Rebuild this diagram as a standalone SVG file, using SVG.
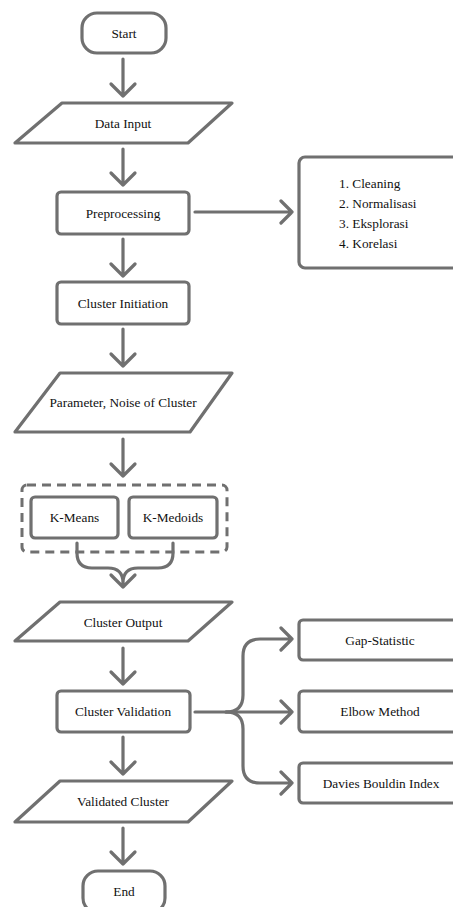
<svg xmlns="http://www.w3.org/2000/svg" width="453" height="907" viewBox="0 0 453 907">
<style>
.s{fill:#fff;stroke:#707070;stroke-width:3.2;stroke-linejoin:round}
.d{fill:none;stroke:#707070;stroke-width:3;stroke-dasharray:9 6}
.c{fill:none;stroke:#707070;stroke-width:3.2;stroke-linecap:round;stroke-linejoin:round}
text{font-family:'Liberation Serif','DejaVu Serif',serif;font-size:13.3px;fill:#111}
.m{text-anchor:middle}
</style>
<rect width="453" height="907" fill="#fff"/>
<g font-family="Liberation Serif, DejaVu Serif, serif">
<g id="start"><rect class="s" x="82" y="13" width="84" height="40" rx="15"/><text class="m" x="124" y="37.5">Start</text></g>
<g id="data-input"><polygon class="s" points="62,103 232,103 188,143 15,143"/><text class="m" x="123" y="127.5">Data Input</text></g>
<g id="preprocessing"><rect class="s" x="57" y="192" width="132" height="42" rx="4"/><text class="m" x="123" y="217.5">Preprocessing</text></g>
<g id="prep-steps"><rect class="s" x="299" y="157" width="170" height="111" rx="6"/>
<text x="339" y="188">1. Cleaning</text><text x="339" y="208">2. Normalisasi</text><text x="339" y="228">3. Eksplorasi</text><text x="339" y="248">4. Korelasi</text></g>
<g id="cluster-initiation"><rect class="s" x="57" y="282" width="132" height="42" rx="4"/><text class="m" x="123" y="307.5">Cluster Initiation</text></g>
<g id="parameter"><polygon class="s" points="60,373 232,373 190,432 15,432"/><text class="m" x="123" y="407">Parameter, Noise of Cluster</text></g>
<g id="methods"><rect class="d" x="22" y="485" width="205" height="67" rx="5"/></g>
<g id="k-means"><rect class="s" x="31" y="497" width="87" height="41" rx="4"/><text class="m" x="74.5" y="522">K-Means</text></g>
<g id="k-medoids"><rect class="s" x="129" y="497" width="88" height="41" rx="4"/><text class="m" x="173" y="522">K-Medoids</text></g>
<g id="cluster-output"><polygon class="s" points="60,602 232,602 188,641 15,641"/><text class="m" x="123" y="626.5">Cluster Output</text></g>
<g id="cluster-validation"><rect class="s" x="57" y="691" width="133" height="41" rx="4"/><text class="m" x="123" y="716">Cluster Validation</text></g>
<g id="gap-statistic"><rect class="s" x="299" y="620" width="165" height="40" rx="4"/><text class="m" x="380" y="644.5">Gap-Statistic</text></g>
<g id="elbow"><rect class="s" x="299" y="691" width="165" height="41" rx="4"/><text class="m" x="380" y="716">Elbow Method</text></g>
<g id="davies"><rect class="s" x="299" y="763" width="165" height="40" rx="4"/><text class="m" x="381" y="787.5">Davies Bouldin Index</text></g>
<g id="validated-cluster"><polygon class="s" points="60,781 232,781 188,822 15,822"/><text class="m" x="123" y="805.5">Validated Cluster</text></g>
<g id="end"><rect class="s" x="83" y="871" width="82" height="42" rx="15"/><text class="m" x="124" y="896">End</text></g>
</g>
<g id="connectors">
<path class="c" d="M123,59V96M111,84L123,96L135,84"/>
<path class="c" d="M123,149V185M111,173L123,185L135,173"/>
<path class="c" d="M195,212H292M281,201L292,212L281,223"/>
<path class="c" d="M123,239V276M111,264L123,276L135,264"/>
<path class="c" d="M123,329V366M111,354L123,366L135,354"/>
<path class="c" d="M123,439V476M111,464L123,476L135,464"/>
<path class="c" d="M77,543V553Q77,568 92,568H108Q123,568 123,583V587M173,543V553Q173,568 158,568H138Q123,568 123,583M111,575L123,587L135,575"/>
<path class="c" d="M123,648V684M111,672L123,684L135,672"/>
<path class="c" d="M195,712H292M281,701L292,712L281,723"/>
<path class="c" d="M226,712Q243,712 243,695V656Q243,639 260,639H292M281,628L292,639L281,650"/>
<path class="c" d="M226,712Q243,712 243,729V766Q243,783 260,783H292M281,772L292,783L281,794"/>
<path class="c" d="M123,737V774M111,762L123,774L135,762"/>
<path class="c" d="M123,828V864M111,852L123,864L135,852"/>
</g>
</svg>
